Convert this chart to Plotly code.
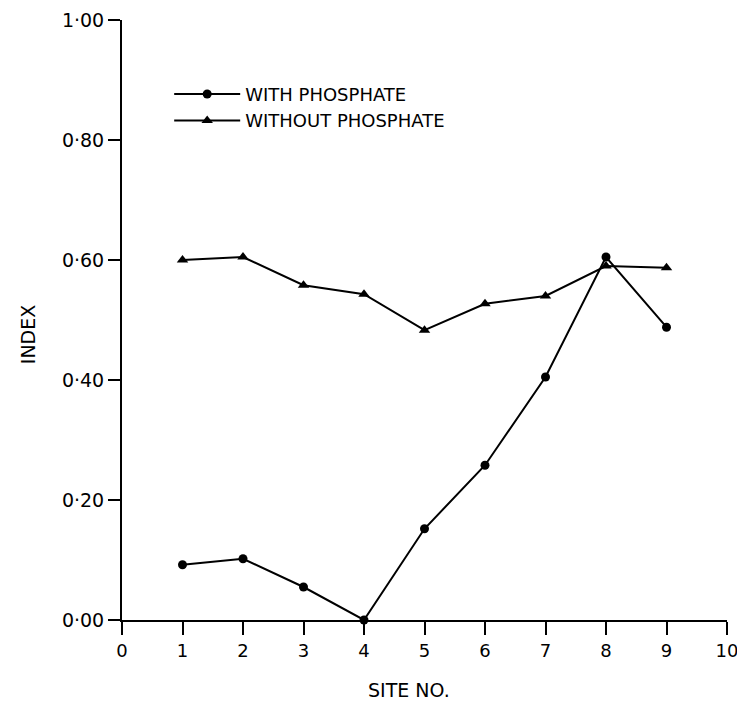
import plotly.graph_objects as go

sites = [1, 2, 3, 4, 5, 6, 7, 8, 9]
with_phosphate = [0.092, 0.102, 0.055, 0.0, 0.152, 0.258, 0.405, 0.605, 0.488]
without_phosphate = [0.600, 0.605, 0.558, 0.543, 0.483, 0.527, 0.540, 0.590, 0.587]

x_ticks = list(range(0, 11))
y_ticks = [0.0, 0.2, 0.4, 0.6, 0.8, 1.0]
y_tick_labels = ["0·00", "0·20", "0·40", "0·60", "0·80", "1·00"]

FONT = "DejaVu Sans"

fig = go.Figure()
fig.add_trace(go.Scatter(
    x=sites, y=with_phosphate, name="WITH PHOSPHATE",
    mode="lines+markers",
    line=dict(color="black", width=2),
    marker=dict(symbol="circle", size=9, color="black"),
    cliponaxis=False,
))
fig.add_trace(go.Scatter(
    x=sites, y=without_phosphate, name="WITHOUT PHOSPHATE",
    mode="lines+markers",
    line=dict(color="black", width=2),
    marker=dict(symbol="triangle-up", size=10, color="black"),
    cliponaxis=False,
))

fig.update_layout(
    width=737, height=705,
    margin=dict(l=122, r=10, t=20, b=85, autoexpand=False),
    paper_bgcolor="white", plot_bgcolor="white",
    font=dict(family=FONT, size=18, color="black"),
    showlegend=True,
    legend=dict(
        x=0.078, y=0.907, xanchor="left", yanchor="top",
        bgcolor="rgba(0,0,0,0)", borderwidth=0,
        font=dict(family=FONT, size=18, color="black"),
        tracegroupgap=0, itemwidth=66,
    ),
    xaxis=dict(
        range=[0, 10], tickmode="array", tickvals=x_ticks,
        ticktext=[str(v) for v in x_ticks],
        showgrid=False, zeroline=False, showline=True, automargin=False,
        linecolor="black", linewidth=2,
        ticks="outside", ticklen=13, tickwidth=2, tickcolor="black",
        tickfont=dict(family=FONT, size=18),
        ticklabeloverflow="allow",
    ),
    yaxis=dict(
        range=[0, 1.0], tickmode="array", tickvals=y_ticks,
        ticktext=y_tick_labels,
        showgrid=False, zeroline=False, showline=True, automargin=False,
        linecolor="black", linewidth=2,
        ticks="outside", ticklen=12, tickwidth=2, tickcolor="black",
        tickfont=dict(family=FONT, size=19),
        ticklabeloverflow="allow",
    ),
    annotations=[
        dict(text="SITE NO.", xref="paper", yref="paper", x=0.475, y=-0.117,
             xanchor="center", yanchor="middle", showarrow=False,
             font=dict(family=FONT, size=19)),
        dict(text="INDEX", xref="paper", yref="paper", x=-0.155, y=0.475,
             xanchor="center", yanchor="middle", showarrow=False, textangle=-90,
             font=dict(family=FONT, size=19)),
    ],
)

fig.write_html(
    "out.html",
    config={"displayModeBar": False},
    post_script="document.body.style.margin='0';document.body.style.padding='0';",
)
